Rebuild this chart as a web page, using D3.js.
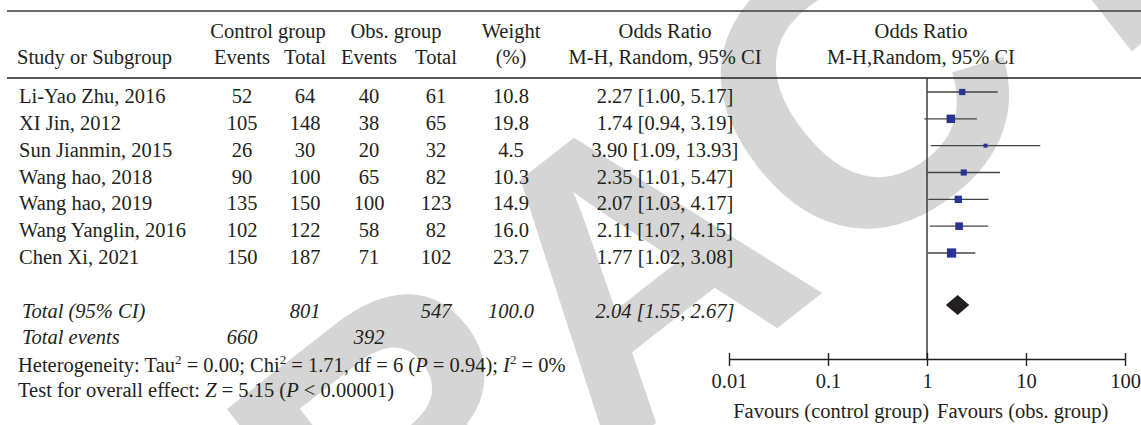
<!DOCTYPE html>
<html>
<head>
<meta charset="utf-8">
<script src="https://cdn.jsdelivr.net/npm/d3@7"></script>
<style>
  html, body { margin: 0; padding: 0; background: #fff; }
  svg text { font-family: "Liberation Serif", "Times New Roman", serif; fill: #231f20; }
</style>
</head>
<body>
<svg id="chart" width="1141" height="425"></svg>
<script>
// ---- data -------------------------------------------------------------
const studies = ["Li-Yao Zhu, 2016", "XI Jin, 2012", "Sun Jianmin, 2015", "Wang hao, 2018",
                 "Wang hao, 2019", "Wang Yanglin, 2016", "Chen Xi, 2021"];
const ctrlEvents = [52, 105, 26, 90, 135, 102, 150];
const ctrlTotal  = [64, 148, 30, 100, 150, 122, 187];
const obsEvents  = [40, 38, 20, 65, 100, 58, 71];
const obsTotal   = [61, 65, 32, 82, 123, 82, 102];
const weights    = [10.8, 19.8, 4.5, 10.3, 14.9, 16.0, 23.7];
const oddsRatio  = [2.27, 1.74, 3.90, 2.35, 2.07, 2.11, 1.77];
const ciLower    = [1.00, 0.94, 1.09, 1.01, 1.03, 1.07, 1.02];
const ciUpper    = [5.17, 3.19, 13.93, 5.47, 4.17, 4.15, 3.08];
const totalCtrl = 801, totalObs = 547, totalWeight = 100.0;
const totalEventsCtrl = 660, totalEventsObs = 392;
const pooledOR = 2.04, pooledLower = 1.55, pooledUpper = 2.67;
const axisTicks = [0.01, 0.1, 1, 10, 100];
const tickLabels = ["0.01", "0.1", "1", "10", "100"];

const svg = d3.select("#chart");
const ink = "#231f20";
const FS = 20.5;

// ---- watermark --------------------------------------------------------
const wmSize = 400;
svg.append("text")
  .attr("transform", "translate(628,262) rotate(-38)")
  .attr("y", 0.36 * wmSize)
  .attr("text-anchor", "middle")
  .style("font-family", "'Liberation Sans', Arial, sans-serif")
  .style("font-weight", "bold")
  .style("font-size", wmSize + "px")
  .style("fill", "#d5d5d5")
  .text("RETRACTED");

// ---- scales -----------------------------------------------------------
const x = d3.scaleLog().domain([0.01, 100]).range([729, 1125]);
const yRow = d3.scaleLinear().domain([0, studies.length - 1]).range([92, 253]);
const yTotal = 305, axisY = 359;
const boxSide = w => 1.9 * Math.sqrt(w);

// column centres of the table
const col = { ctrlEv: 242, ctrlTot: 305, obsEv: 369, obsTot: 436, weight: 511, or: 665, plot: 921 };

function txt(xp, yp, s, anchor = "middle", italic = false) {
  return svg.append("text").attr("x", xp).attr("y", yp)
    .attr("text-anchor", anchor)
    .style("font-size", FS + "px")
    .style("font-style", italic ? "italic" : "normal")
    .text(s);
}

// ---- rules ------------------------------------------------------------
svg.append("line").attr("x1", 7).attr("x2", 1141).attr("y1", 11).attr("y2", 11)
  .attr("stroke", "#3a3a3a").attr("stroke-width", 1.5);
svg.append("line").attr("x1", 7).attr("x2", 1141).attr("y1", 78).attr("y2", 78)
  .attr("stroke", ink).attr("stroke-width", 1.5);

// ---- header -----------------------------------------------------------
txt(268, 38, "Control group");
txt(396, 38, "Obs. group");
txt(col.weight, 38, "Weight");
txt(col.or, 38, "Odds Ratio");
txt(col.plot, 38, "Odds Ratio");
txt(17, 64, "Study or Subgroup", "start");
txt(col.ctrlEv, 64, "Events");
txt(col.ctrlTot, 64, "Total");
txt(col.obsEv, 64, "Events");
txt(col.obsTot, 64, "Total");
txt(col.weight, 64, "(%)");
txt(col.or, 64, "M-H, Random, 95% CI");
txt(col.plot, 64, "M-H,Random, 95% CI");

// ---- study rows ---------------------------------------------------------
const fmt2 = d3.format(".2f"), fmt1 = d3.format(".1f");
studies.forEach((s, i) => {
  const yb = yRow(i) + 11;
  txt(19, yb, s, "start");
  txt(col.ctrlEv, yb, ctrlEvents[i]);
  txt(col.ctrlTot, yb, ctrlTotal[i]);
  txt(col.obsEv, yb, obsEvents[i]);
  txt(col.obsTot, yb, obsTotal[i]);
  txt(col.weight, yb, fmt1(weights[i]));
  txt(col.or, yb, `${fmt2(oddsRatio[i])} [${fmt2(ciLower[i])}, ${fmt2(ciUpper[i])}]`);
});

// ---- totals -----------------------------------------------------------
txt(22, 318, "Total (95% CI)", "start", true);
txt(col.ctrlTot, 318, totalCtrl, "middle", true);
txt(col.obsTot, 318, totalObs, "middle", true);
txt(col.weight, 318, fmt1(totalWeight), "middle", true);
txt(col.or, 318, `${fmt2(pooledOR)} [${fmt2(pooledLower)}, ${fmt2(pooledUpper)}]`, "middle", true);
txt(22, 344, "Total events", "start", true);
txt(col.ctrlEv, 344, totalEventsCtrl, "middle", true);
txt(col.obsEv, 344, totalEventsObs, "middle", true);

// heterogeneity and overall effect lines with superscripts / italics
function richLine(xp, yp, parts) {
  const t = svg.append("text").attr("x", xp).attr("y", yp).style("font-size", FS + "px");
  let raised = false;
  parts.forEach(p => {
    const ts = t.append("tspan").text(p.t);
    if (p.i) ts.style("font-style", "italic");
    if (p.sup) { ts.attr("dy", -8).style("font-size", "13px"); raised = true; }
    else if (raised) { ts.attr("dy", 8); raised = false; }
  });
}
richLine(18, 372, [
  { t: "Heterogeneity: Tau" }, { t: "2", sup: true }, { t: " = 0.00; Chi" }, { t: "2", sup: true },
  { t: " = 1.71, df = 6 (" }, { t: "P", i: true }, { t: " = 0.94); " }, { t: "I", i: true },
  { t: "2", sup: true }, { t: " = 0%" }
]);
richLine(18, 397, [
  { t: "Test for overall effect: " }, { t: "Z", i: true }, { t: " = 5.15 (" }, { t: "P", i: true },
  { t: " < 0.00001)" }
]);

// ---- forest plot ------------------------------------------------------
const plot = svg.append("g");
plot.append("line").attr("x1", x(1)).attr("x2", x(1)).attr("y1", 78).attr("y2", axisY)
  .attr("stroke", ink).attr("stroke-width", 1.3);

plot.selectAll("line.ci").data(studies).join("line").attr("class", "ci")
  .attr("x1", (d, i) => x(ciLower[i])).attr("x2", (d, i) => x(ciUpper[i]))
  .attr("y1", (d, i) => yRow(i)).attr("y2", (d, i) => yRow(i))
  .attr("stroke", "#444").attr("stroke-width", 1.4);

plot.selectAll("rect.box").data(studies).join("rect").attr("class", "box")
  .attr("x", (d, i) => x(oddsRatio[i]) - boxSide(weights[i]) / 2)
  .attr("y", (d, i) => yRow(i) - boxSide(weights[i]) / 2)
  .attr("width", (d, i) => boxSide(weights[i]))
  .attr("height", (d, i) => boxSide(weights[i]))
  .attr("fill", "#2b3390");

const dh = 10;
plot.append("path")
  .attr("d", `M${x(pooledLower)},${yTotal} L${x(pooledOR)},${yTotal - dh} L${x(pooledUpper)},${yTotal} L${x(pooledOR)},${yTotal + dh} Z`)
  .attr("fill", ink);

// log axis
const axis = d3.axisBottom(x).tickValues(axisTicks).tickFormat((d, i) => tickLabels[i])
  .tickSize(0).tickPadding(0);
const ag = plot.append("g").attr("transform", `translate(0,${axisY})`).call(axis);
ag.select(".domain").attr("stroke", ink).attr("stroke-width", 1.4);
ag.selectAll(".tick line").attr("y1", -6).attr("y2", 7).attr("stroke", ink).attr("stroke-width", 1.4);
ag.selectAll(".tick text").attr("y", 29).attr("dy", null)
  .style("font-size", FS + "px").style("font-family", "'Liberation Serif', serif").attr("fill", ink);

txt(929, 418, "Favours (control group)", "end");
txt(937, 418, "Favours (obs. group)", "start");
</script>
</body>
</html>
